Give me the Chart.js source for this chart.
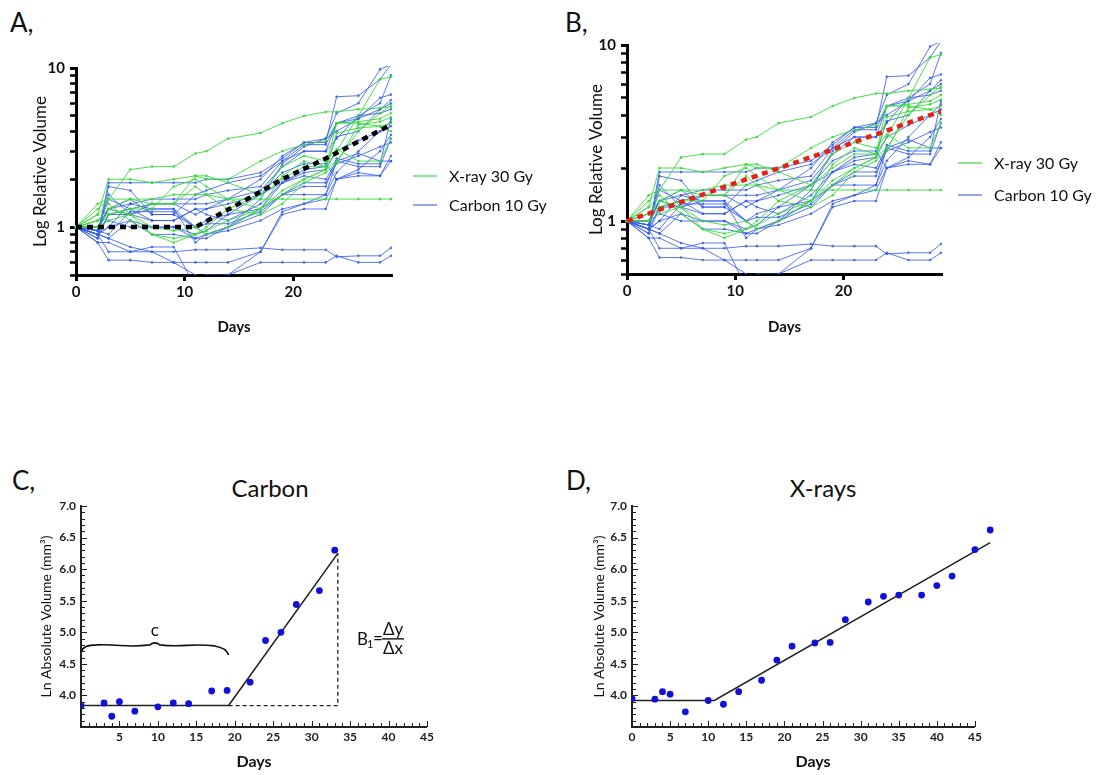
<!DOCTYPE html>
<html>
<head>
<meta charset="utf-8">
<title>Tumour growth curves</title>
<script src="https://cdn.jsdelivr.net/npm/chart.js@4.4.1/dist/chart.umd.min.js"></script>
<style>
  body { margin: 0; background: #fff; width: 1107px; height: 775px; position: relative; overflow: hidden; font-family: Lato, sans-serif; color: #111; }
  canvas { position: absolute; }
  .letter { position: absolute; line-height: 1; }
  .title { position: absolute; line-height: 1; font-size: 24px; transform: translateX(-50%); }
</style>
</head>
<body>
<div class="letter" style="left:10px;top:9px;font-size:26px">A,</div>
<div class="letter" style="left:565px;top:9px;font-size:26px">B,</div>
<div class="letter" style="left:12px;top:467px;font-size:26px">C,</div>
<div class="letter" style="left:566px;top:467px;font-size:26px">D,</div>
<div class="title" style="left:270px;top:476px">Carbon</div>
<div class="title" style="left:823px;top:476px">X-rays</div>

<canvas id="chartA" style="left:0;top:40px" width="560" height="300"></canvas>
<canvas id="chartB" style="left:560px;top:20px" width="540" height="320"></canvas>
<canvas id="chartC" style="left:0;top:470px" width="470" height="305"></canvas>
<canvas id="chartD" style="left:560px;top:470px" width="500" height="305"></canvas>

<script>
// ---- data for panels A and B (relative volume, per animal) ----
const days = [0, 2, 3, 5, 7, 9, 11, 12, 14, 17, 19, 21, 23, 24, 26, 28, 29];

const xray30Gy = [
  [1, 1.2, 2.0, 2.0, 1.9, 2.0, 2.1, 2.0, 2.0, 2.6, 3.0, 3.3, 3.5, 4.5, 4.6, 4.8, 5.2],
  [1, 1.3, 1.5, 2.3, 2.4, 2.4, 2.9, 3.0, 3.6, 3.9, 4.5, 5.0, 5.3, 5.3, 5.5, 5.6, 5.7],
  [1, 1.4, 1.5, 1.5, 1.5, 1.6, 1.6, 1.6, 1.5, 1.5, 1.5, 1.5, 1.5, 1.5, 1.5, 1.5, 1.5],
  [1, 1.1, 1.3, 1.5, 1.4, 1.4, 2.1, 2.1, 1.9, 1.6, 2.0, 2.4, 2.4, 3.0, 5.0, 8.5, 8.8],
  [1, 1.1, 1.2, 1.3, 1.3, 1.8, 2.0, 1.8, 1.5, 1.3, 2.1, 2.6, 2.4, 4.5, 4.5, 4.3, 4.0],
  [1, 1.0, 1.1, 1.2, 0.9, 0.85, 0.9, 0.95, 1.1, 1.3, 1.6, 2.0, 2.3, 3.9, 4.2, 4.3, 4.5],
  [1, 1.2, 1.4, 1.1, 0.9, 0.8, 0.9, 1.0, 1.3, 1.6, 2.4, 2.8, 2.6, 3.1, 2.6, 2.6, 3.6],
  [1, 1.0, 1.2, 1.3, 1.4, 1.4, 1.8, 1.6, 1.3, 1.2, 1.4, 1.9, 2.2, 2.5, 4.4, 4.6, 4.9],
  [1, 1.1, 1.3, 1.2, 1.0, 0.95, 1.0, 0.9, 1.0, 1.3, 1.7, 2.0, 2.3, 2.6, 4.0, 5.2, 5.8]
];

const carbon10Gy = [
  [1, 0.85, 1.2, 1.3, 1.4, 1.4, 1.2, 1.3, 1.5, 2.0, 2.8, 3.4, 3.4, 6.6, 6.7, 8.5, 10.5],
  [1, 0.9, 1.9, 1.9, 1.9, 1.9, 1.9, 2.0, 2.0, 2.2, 2.7, 3.4, 3.6, 5.2, 6.0, 9.8, 10.5],
  [1, 0.95, 1.6, 1.2, 1.4, 1.4, 1.4, 1.4, 1.5, 1.7, 2.4, 3.0, 3.0, 4.5, 4.8, 6.5, 6.8],
  [1, 0.9, 0.85, 1.1, 0.9, 0.9, 0.85, 0.85, 1.0, 1.5, 2.5, 3.2, 3.6, 4.0, 4.8, 5.5, 6.0],
  [1, 0.8, 0.8, 0.7, 0.7, 0.6, 0.6, 0.6, 0.6, 0.7, 1.2, 1.3, 1.3, 2.0, 2.2, 2.1, 2.8],
  [1, 0.9, 0.85, 0.75, 0.7, 0.7, 0.72, 0.72, 0.72, 0.74, 0.72, 0.72, 0.72, 0.65, 0.66, 0.66, 0.74],
  [1, 0.8, 0.62, 0.62, 0.6, 0.6, 0.5, 0.47, 0.5, 0.6, 0.6, 0.6, 0.6, 0.66, 0.6, 0.6, 0.66],
  [1, 0.9, 0.7, 0.7, 0.75, 0.75, 0.42, 0.5, 0.5, 0.7, 1.25, 1.4, 1.5, 2.0, 2.3, 3.0, 3.8],
  [1, 1.0, 1.3, 1.4, 1.5, 1.5, 1.5, 1.6, 1.7, 1.8, 2.6, 3.3, 3.3, 4.5, 5.0, 5.2, 5.5],
  [1, 0.95, 1.3, 1.2, 1.3, 1.3, 1.0, 1.1, 1.2, 1.6, 2.2, 2.5, 2.5, 2.0, 2.1, 2.1, 2.6],
  [1, 0.9, 1.2, 1.2, 1.1, 1.1, 1.3, 1.3, 1.4, 1.6, 1.9, 2.2, 2.3, 3.0, 3.5, 4.0, 4.3],
  [1, 1.0, 1.1, 1.0, 1.0, 1.0, 0.9, 0.95, 1.2, 1.3, 1.6, 1.8, 1.8, 2.7, 2.5, 2.5, 4.8],
  [1, 0.9, 1.0, 1.4, 1.3, 1.3, 0.8, 0.9, 0.95, 1.1, 1.3, 1.4, 1.6, 2.6, 2.4, 2.4, 3.6],
  [1, 0.95, 1.5, 1.3, 1.1, 1.1, 1.3, 1.2, 1.1, 1.4, 1.9, 2.3, 2.4, 3.7, 4.0, 5.5, 6.3],
  [1, 0.9, 1.0, 1.1, 1.0, 1.0, 0.85, 0.9, 1.0, 1.2, 1.6, 1.9, 1.9, 2.5, 2.8, 3.2, 3.4],
  [1, 1.0, 1.3, 1.5, 1.2, 1.2, 1.6, 1.7, 1.9, 2.1, 2.6, 3.0, 3.0, 3.6, 5.0, 6.0, 9.0],
  [1, 0.85, 1.8, 1.7, 1.2, 1.2, 1.0, 0.9, 1.0, 1.3, 1.9, 2.1, 2.0, 2.6, 2.9, 2.6, 2.6],
  [1, 0.95, 0.9, 1.25, 1.25, 1.25, 1.0, 1.05, 1.05, 1.25, 1.6, 1.6, 1.6, 2.2, 3.0, 4.0, 4.6]
];

// piecewise model (A) and exponential model (B)
const lagDays = [0, 11, 15, 19, 23, 29];
const lagFit = [1, 1, 1.4, 2.0, 2.7, 4.4];
const expDays = [0, 10, 20, 29];
const expFit = [1, 1.64, 2.67, 4.2];

const logTicks = [0.5, 0.6, 0.7, 0.8, 0.9, 1, 2, 3, 4, 5, 6, 7, 8, 9, 10];
const dayTicksAB = [0, 10, 20];

// ---- data for panels C and D (ln absolute volume) ----
const carbonDays = [0, 3, 4, 5, 7, 10, 12, 14, 17, 19, 22, 24, 26, 28, 31, 33];
const carbonLnVol = [3.84, 3.88, 3.67, 3.90, 3.75, 3.82, 3.88, 3.87, 4.07, 4.08, 4.21, 4.87, 5.00, 5.44, 5.66, 6.30];
const carbonFitX = [0, 19.2, 33.4];
const carbonFitY = [3.84, 3.84, 6.25];
const carbonGuideX = [19.2, 33.4, 33.4];
const carbonGuideY = [3.84, 3.84, 6.25];

const xrayDays = [0, 3, 4, 5, 7, 10, 12, 14, 17, 19, 21, 24, 26, 28, 31, 33, 35, 38, 40, 42, 45, 47];
const xrayLnVol = [3.95, 3.94, 4.06, 4.02, 3.74, 3.92, 3.86, 4.06, 4.24, 4.56, 4.78, 4.83, 4.84, 5.20, 5.48, 5.57, 5.59, 5.59, 5.74, 5.89, 6.31, 6.62];
const xrayFitX = [0, 10.8, 47];
const xrayFitY = [3.92, 3.92, 6.42];

const lnTicks = [];
for (let i = 35; i <= 70; i++) lnTicks.push(i / 10);
const dayTicksCD = [];
for (let d = 0; d <= 45; d++) dayTicksCD.push(d);

const FONT = 'Lato, sans-serif';
const GREEN = 'rgba(55, 220, 55, 0.9)';
const BLUE = 'rgba(50, 90, 238, 0.82)';

const pts = (xs, ys) => xs.map((x, i) => ({ x: x, y: ys[i] }));
const setTicks = list => scale => { scale.ticks = list.map(v => ({ value: v })); };

// legend drawn at a fixed place to the right of the plot
const sideLegend = {
  id: 'sideLegend',
  afterDraw(chart, args, opts) {
    if (!opts.items) return;
    const ctx = chart.ctx;
    ctx.save();
    ctx.font = '16px ' + FONT;
    ctx.textBaseline = 'middle';
    opts.items.forEach(item => {
      ctx.strokeStyle = item.color;
      ctx.lineWidth = 1.3;
      ctx.beginPath();
      ctx.moveTo(opts.x, item.y);
      ctx.lineTo(opts.x + 24, item.y);
      ctx.stroke();
      ctx.fillStyle = '#111';
      ctx.fillText(item.text, opts.x + 36, item.y + 1);
    });
    ctx.restore();
  }
};

// small inward tick marks and the short x axis line used in C and D
const innerTicks = {
  id: 'innerTicks',
  afterDraw(chart, args, opts) {
    if (!opts.on) return;
    const { ctx, chartArea, scales } = chart;
    const xs = scales.x, ys = scales.y;
    ctx.save();
    ctx.strokeStyle = '#222';
    ctx.lineWidth = 1;
    ys.ticks.forEach(t => {
      const py = Math.round(ys.getPixelForValue(t.value)) + 0.5;
      const major = Math.abs(t.value * 2 - Math.round(t.value * 2)) < 1e-6;
      ctx.beginPath();
      ctx.moveTo(chartArea.left, py);
      ctx.lineTo(chartArea.left + (major ? 6 : 4), py);
      ctx.stroke();
    });
    xs.ticks.forEach(t => {
      const px = Math.round(xs.getPixelForValue(t.value)) + 0.5;
      ctx.beginPath();
      ctx.moveTo(px, chartArea.bottom);
      ctx.lineTo(px, chartArea.bottom - (t.value % 5 === 0 ? 6 : 4));
      ctx.stroke();
    });
    ctx.lineWidth = 2;
    ctx.beginPath();
    ctx.moveTo(chartArea.left, chartArea.bottom);
    ctx.lineTo(xs.getPixelForValue(opts.xEnd), chartArea.bottom);
    ctx.stroke();
    ctx.restore();
  }
};

// brace over the lag phase and the slope formula in panel C
const carbonNotes = {
  id: 'carbonNotes',
  afterDraw(chart, args, opts) {
    if (!opts.on) return;
    const { ctx, scales } = chart;
    const x0 = scales.x.getPixelForValue(0), x1 = scales.x.getPixelForValue(19.2);
    const yb = scales.y.getPixelForValue(4.8);
    const xm = (x0 + x1) / 2;
    ctx.save();
    ctx.strokeStyle = '#111';
    ctx.lineWidth = 1.6;
    ctx.beginPath();
    ctx.moveTo(x0, yb + 7);
    ctx.quadraticCurveTo(x0 + 2, yb, x0 + 16, yb);
    ctx.bezierCurveTo(x0 + 40, yb - 1, xm - 30, yb + 3, xm - 5, yb);
    ctx.quadraticCurveTo(xm, yb - 4, xm + 5, yb);
    ctx.bezierCurveTo(xm + 30, yb + 3, x1 - 40, yb - 2, x1 - 14, yb + 1);
    ctx.quadraticCurveTo(x1 - 2, yb + 3, x1, yb + 10);
    ctx.stroke();
    ctx.fillStyle = '#111';
    ctx.textAlign = 'center';
    ctx.textBaseline = 'middle';
    ctx.font = '17px ' + FONT;
    ctx.fillText('c', xm, yb - 14);

    const fx = scales.x.getPixelForValue(35.9), fy = scales.y.getPixelForValue(4.88);
    ctx.textAlign = 'left';
    ctx.font = '17px ' + FONT;
    ctx.fillText('B', fx, fy);
    ctx.font = '11px ' + FONT;
    ctx.fillText('1', fx + 10, fy + 5);
    ctx.font = '17px ' + FONT;
    ctx.fillText('=', fx + 16, fy - 1);
    ctx.textAlign = 'center';
    ctx.fillText('\u0394y', fx + 36, fy - 10);
    ctx.fillText('\u0394x', fx + 36, fy + 9);
    ctx.lineWidth = 1.4;
    ctx.beginPath();
    ctx.moveTo(fx + 25, fy - 1);
    ctx.lineTo(fx + 47, fy - 1);
    ctx.stroke();
    ctx.restore();
  }
};

function spaghetti(id, trendX, trendY, trendColor, g) {
  const datasets = [{
    data: pts(trendX, trendY),
    borderColor: trendColor,
    borderWidth: 4.5,
    borderDash: [6, 5],
    pointRadius: 0,
    order: 0
  }];
  xray30Gy.forEach(v => datasets.push({
    data: pts(days, v), borderColor: GREEN, backgroundColor: GREEN,
    borderWidth: 1, pointRadius: 1.3, pointBorderWidth: 0, order: 1
  }));
  carbon10Gy.forEach(v => datasets.push({
    data: pts(days, v), borderColor: BLUE, backgroundColor: BLUE,
    borderWidth: 1, pointRadius: 1.3, pointBorderWidth: 0, order: 1
  }));
  datasets.forEach(d => { d.clip = { left: 3, top: 2, right: 4, bottom: 0 }; });

  new Chart(document.getElementById(id), {
    type: 'line',
    data: { datasets: datasets },
    plugins: [sideLegend],
    options: {
      responsive: false,
      animation: false,
      events: [],
      layout: { padding: { left: g.padLeft, top: g.padTop, right: g.padRight, bottom: 0 } },
      plugins: {
        legend: { display: false },
        tooltip: { enabled: false },
        sideLegend: {
          x: g.legendX,
          items: [
            { text: 'X-ray 30 Gy', color: GREEN, y: g.legendY },
            { text: 'Carbon 10 Gy', color: BLUE, y: g.legendY + g.legendGap }
          ]
        }
      },
      scales: {
        x: {
          type: 'linear', min: 0, max: 29.1,
          afterBuildTicks: setTicks(dayTicksAB),
          afterFit: s => { s.height = g.xHeight; },
          border: { color: '#000', width: 3 },
          grid: { drawOnChartArea: false, tickLength: 6, tickWidth: 3, tickColor: '#000' },
          ticks: { color: '#111', padding: 2, font: { family: FONT, size: 15, weight: 'bold' } },
          title: { display: true, text: 'Days', color: '#111', padding: { top: 0, bottom: 4 },
                   font: { family: FONT, size: 15, weight: 'bold' } }
        },
        y: {
          type: 'logarithmic', min: 0.5, max: 10,
          afterBuildTicks: setTicks(logTicks),
          afterFit: s => { s.width = g.yWidth; },
          border: { color: '#000', width: 3 },
          grid: { drawOnChartArea: false, tickLength: 6, tickColor: '#000',
                  tickWidth: c => (c.tick && (c.tick.value === 1 || c.tick.value === 10)) ? 3 : 2.5 },
          ticks: {
            autoSkip: false, color: '#111', padding: 5,
            font: { family: FONT, size: 15, weight: 'bold' },
            callback: v => (v === 1 || v === 10) ? String(v) : ''
          },
          title: { display: true, text: 'Log Relative Volume', color: '#111', padding: { top: 3, bottom: 0 },
                   font: { family: FONT, size: 17 } }
        }
      }
    }
  });
}

function growthPanel(id, xs, ys, fitX, fitY, guideX, guideY, g) {
  const datasets = [
    { type: 'scatter', data: pts(xs, ys), backgroundColor: '#1010d8', borderWidth: 0, pointRadius: 3.4, order: 0 },
    { type: 'line', data: pts(fitX, fitY), borderColor: '#222', borderWidth: 1.6, pointRadius: 0, order: 1 }
  ];
  if (guideX) {
    datasets.push({ type: 'line', data: pts(guideX, guideY), borderColor: '#222', borderWidth: 1.3,
                    borderDash: [4, 3], pointRadius: 0, order: 2 });
  }
  new Chart(document.getElementById(id), {
    type: 'scatter',
    data: { datasets: datasets },
    plugins: [innerTicks, carbonNotes],
    options: {
      responsive: false,
      animation: false,
      events: [],
      layout: { padding: { left: g.padLeft, top: g.padTop, right: g.padRight, bottom: 0 } },
      plugins: {
        legend: { display: false },
        tooltip: { enabled: false },
        innerTicks: { on: true, xEnd: 45 },
        carbonNotes: { on: g.notes }
      },
      scales: {
        x: {
          type: 'linear', min: 0, max: g.xMax,
          afterBuildTicks: setTicks(dayTicksCD),
          afterFit: s => { s.height = g.xHeight; },
          border: { display: false },
          grid: { display: false, drawTicks: false, tickLength: 0 },
          ticks: {
            autoSkip: false, maxRotation: 0, color: '#222', padding: 3,
            font: { family: FONT, size: 12, weight: 'bold' },
            callback: v => (v % 5 === 0 && (v > 0 || g.zeroLabel)) ? String(v) : ''
          },
          title: { display: true, text: 'Days', color: '#111', padding: { top: 0, bottom: 4 },
                   font: { family: FONT, size: 16, weight: 'bold' } }
        },
        y: {
          type: 'linear', min: 3.5, max: 7.0,
          afterBuildTicks: setTicks(lnTicks),
          afterFit: s => { s.width = g.yWidth; },
          border: { color: '#222', width: 2 },
          grid: { display: false, drawTicks: false, tickLength: 0 },
          ticks: {
            autoSkip: false, color: '#222', padding: 5,
            font: { family: FONT, size: 12, weight: 'bold' },
            callback: v => {
              const half = Math.abs(v * 2 - Math.round(v * 2)) < 1e-6;
              return (half && v >= 4) ? v.toFixed(1) : '';
            }
          },
          title: { display: true, text: 'Ln Absolute Volume (mm\u00b3)', color: '#111', padding: { top: 4, bottom: 0 },
                   font: { family: FONT, size: 14 } }
        }
      }
    }
  });
}

spaghetti('chartA', lagDays, lagFit, '#000', {
  padLeft: 27, padTop: 28, padRight: 168, yWidth: 49, xHeight: 65,
  legendX: 413, legendY: 136, legendGap: 29
});
spaghetti('chartB', expDays, expFit, '#e4221b', {
  padLeft: 23, padTop: 25, padRight: 158, yWidth: 44, xHeight: 66,
  legendX: 398, legendY: 143, legendGap: 32
});
growthPanel('chartC', carbonDays, carbonLnVol, carbonFitX, carbonFitY, carbonGuideX, carbonGuideY, {
  padLeft: 34, padTop: 36, padRight: 43, yWidth: 47, xHeight: 48, xMax: 45, zeroLabel: false, notes: true
});
growthPanel('chartD', xrayDays, xrayLnVol, xrayFitX, xrayFitY, null, null, {
  padLeft: 27, padTop: 36, padRight: 66, yWidth: 45, xHeight: 48, xMax: 47.5, zeroLabel: true, notes: false
});
</script>
</body>
</html>
